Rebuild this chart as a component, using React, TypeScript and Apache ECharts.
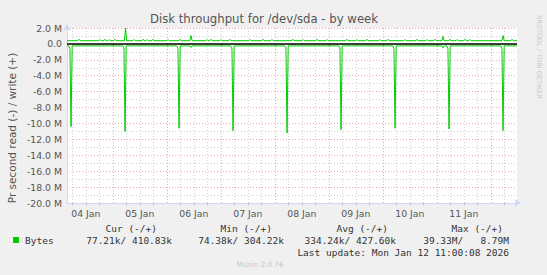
import React, { useEffect, useRef } from "react";
import * as echarts from "echarts";

// Time in hours since 04 Jan 00:00
const X_MIN = 3.6;
const X_MAX = 203.6;

const yTicks = [-20, -18, -16, -14, -12, -10, -8, -6, -4, -2, 0, 2];
const dayLabelHours = [12, 36, 60, 84, 108, 132, 156, 180];
const dayLabels = ["04 Jan", "05 Jan", "06 Jan", "07 Jan", "08 Jan", "09 Jan", "10 Jan", "11 Jan"];
const minorGridHours = [6, 12, 18, 30, 36, 42, 54, 60, 66, 78, 84, 90, 102, 108, 114, 126, 132, 138, 150, 156, 162, 174, 180, 186, 198];
const majorGridHours = [24, 48, 72, 96, 120, 144, 168, 192];

// write (+), in M
const writeBase = 0.4;
const writeEventHours = [8.9, 18.3, 20.5, 22.3, 24.9, 29.6, 33.4, 37.4, 39.2, 41.8, 48.5, 53.8, 58.7, 65.8, 67.6, 72.0, 76.0, 84.9, 90.7, 94.7, 104.0, 108.5, 114.7, 119.2, 128.0, 132.5, 136.9, 142.7, 146.3, 153.8, 159.2, 163.6, 167.2, 170.7, 173.8, 177.0, 180.5, 182.7, 197.4, 201.4];
const writeEventValues = [0.58, 0.55, 0.58, 0.55, 0.58, 1.95, 0.55, 0.58, 0.55, 0.58, 0.55, 0.58, 1.05, 0.55, 0.58, 0.55, 0.58, 0.55, 0.58, 0.55, 0.58, 0.55, 0.58, 0.55, 0.58, 0.55, 0.58, 0.55, 0.58, 0.55, 0.58, 0.55, 0.58, 0.95, 0.58, 0.55, 0.58, 0.55, 1.05, 0.58];

// read (-), in M
const readBase = -0.25;
const readSpikeHours = [5.4, 29.4, 53.4, 77.4, 101.4, 125.4, 149.4, 173.4, 197.4];
const readSpikeValues = [-10.4, -11.0, -10.6, -10.9, -11.2, -10.8, -10.6, -10.7, -10.9];
const readShoulderValues = [-0.6, -0.5, -0.6, -0.5, -0.5, -0.5, -0.6, -0.6, -0.6];
const readDipHours = [58.7, 170.7];
const readDipValues = [-0.45, -0.5];

const legendHeaders = ["Cur (-/+)", "Min (-/+)", "Avg (-/+)", "Max (-/+)"];
const legendValues = ["77.21k/ 410.83k", "74.38k/ 304.22k", "334.24k/ 427.60k", "39.33M/   8.79M"];
const lastUpdate = "Last update: Mon Jan 12 11:00:08 2026";

function buildWrite(): [number, number][] {
  const pts: [number, number][] = [[X_MIN, writeBase]];
  writeEventHours.forEach((h, i) => {
    pts.push([h - 0.5, writeBase], [h, writeEventValues[i]], [h + 0.5, writeBase]);
  });
  pts.push([X_MAX, writeBase]);
  return pts;
}

function buildRead(): [number, number][] {
  const ev: { h: number; p: [number, number][] }[] = [];
  readSpikeHours.forEach((h, i) => {
    ev.push({ h, p: [[h - 1.0, readBase], [h - 0.5, readShoulderValues[i]], [h, readSpikeValues[i]], [h + 0.5, readBase]] });
  });
  readDipHours.forEach((h, i) => {
    ev.push({ h, p: [[h - 0.5, readBase], [h, readDipValues[i]], [h + 0.5, readBase]] });
  });
  ev.sort((a, b) => a.h - b.h);
  const pts: [number, number][] = [[X_MIN, readBase]];
  ev.forEach((e) => e.p.forEach((q) => { if (q[0] >= X_MIN) pts.push(q); }));
  pts.push([X_MAX, readBase]);
  return pts;
}

const SANS = "DejaVu Sans";
const MONO = "DejaVu Sans Mono";
const TXT = "#555555";
const AXIS = "#CFD6F8";
const MINOR = "rgba(150,150,150,0.45)";
const MAJOR = "rgba(230,110,110,0.6)";

export default function App() {
  const ref = useRef<HTMLDivElement>(null);
  useEffect(() => {
    if (!ref.current) return;
    const chart = echarts.init(ref.current, undefined, { renderer: "svg" });
    const headerRight = [157, 272, 388, 503];
    const valueRight = [172, 284, 396, 509];
    const graphics: any[] = [
      { type: "text", x: 264, y: 19, style: { text: "Disk throughput for /dev/sda - by week", fontFamily: SANS, fontSize: 11.7, fill: TXT, align: "center", verticalAlign: "middle" } },
      { type: "text", x: 12, y: 128, rotation: Math.PI / 2, style: { text: "Pr second read (-) / write (+)", fontFamily: SANS, fontSize: 10.5, fill: TXT, align: "center", verticalAlign: "middle" } },
      { type: "text", x: 539, y: 15, rotation: -Math.PI / 2, style: { text: "RRDTOOL / TOBI OETIKER", fontFamily: SANS, fontSize: 6.5, fill: "#c8c8c8", align: "left", verticalAlign: "middle" } },
      { type: "rect", shape: { x: 13, y: 237, width: 6, height: 6 }, style: { fill: "#00CC00" } },
      { type: "text", x: 25, y: 240, style: { text: "Bytes", fontFamily: MONO, fontSize: 9.5, fill: "#333", align: "left", verticalAlign: "middle" } },
      { type: "text", x: 509, y: 252, style: { text: lastUpdate, fontFamily: MONO, fontSize: 9.5, fill: "#333", align: "right", verticalAlign: "middle" } },
      { type: "text", x: 260, y: 264, style: { text: "Munin 2.0.76", fontFamily: SANS, fontSize: 7.2, fill: "#c8c8c8", align: "center", verticalAlign: "middle" } },
    ];
    legendHeaders.forEach((t, i) => graphics.push({ type: "text", x: headerRight[i], y: 228, style: { text: t, fontFamily: MONO, fontSize: 9.5, fill: "#333", align: "right", verticalAlign: "middle" } }));
    legendValues.forEach((t, i) => graphics.push({ type: "text", x: valueRight[i], y: 240, style: { text: t, fontFamily: MONO, fontSize: 9.5, fill: "#333", align: "right", verticalAlign: "middle" } }));

    chart.setOption({
      animation: false,
      backgroundColor: "#F0F0F0",
      grid: { left: 67, right: 30, top: 28, bottom: 72, show: true, backgroundColor: "#ffffff", borderWidth: 0 },
      xAxis: [
        {
          type: "value", min: X_MIN, max: X_MAX, position: "bottom",
          axisLine: { show: true, onZero: false, lineStyle: { color: AXIS, width: 1 }, symbol: ["none", "arrow"], symbolSize: [6, 7], symbolOffset: [0, 4] },
          axisTick: { show: true, length: 2, inside: false, customValues: minorGridHours, lineStyle: { color: MINOR } },
          axisLabel: { show: true, customValues: dayLabelHours, margin: 6, fontFamily: SANS, fontSize: 9.3, color: TXT,
            formatter: (v: number) => dayLabels[dayLabelHours.indexOf(Math.round(v))] ?? "" },
          splitLine: { show: true, lineStyle: { color: MINOR, type: [1, 2], width: 1 } },
        },
        {
          type: "value", min: X_MIN, max: X_MAX, position: "bottom",
          axisLine: { show: false },
          axisTick: { show: true, length: 3, customValues: majorGridHours, lineStyle: { color: MAJOR } },
          axisLabel: { show: false },
          splitLine: { show: true, lineStyle: { color: MAJOR, type: [1, 2], width: 1 } },
        },
      ],
      yAxis: {
        type: "value", min: -20, max: 2, interval: 2,
        axisLine: { show: true, lineStyle: { color: AXIS, width: 1 }, symbol: ["none", "arrow"], symbolSize: [6, 7], symbolOffset: [0, 4] },
        axisTick: { show: false },
        axisLabel: { margin: 5, fontFamily: SANS, fontSize: 9.3, color: TXT,
          formatter: (v: number) => (v === 0 ? "0.0" : v.toFixed(1) + " M") },
        splitLine: { show: true, lineStyle: { color: MAJOR, type: [1, 2], width: 1 } },
        minorTick: { show: false, splitNumber: 2 },
        minorSplitLine: { show: true, lineStyle: { color: MINOR, type: [1, 2], width: 1 } },
      },
      graphic: graphics,
      series: [
        {
          type: "line", name: "write", xAxisIndex: 0, data: buildWrite(), showSymbol: false, symbol: "none",
          lineStyle: { color: "#00CC00", width: 1 }, itemStyle: { color: "#00CC00" }, silent: true, z: 3,
        },
        {
          type: "line", name: "read", xAxisIndex: 0, data: buildRead(), showSymbol: false, symbol: "none",
          lineStyle: { color: "#00CC00", width: 1 }, itemStyle: { color: "#00CC00" }, silent: true, z: 3,
          markLine: { silent: true, symbol: "none", label: { show: false }, lineStyle: { color: "#000", type: "solid", width: 1.6 }, data: [{ yAxis: 0 }] },
        },
      ],
    });
    return () => chart.dispose();
  }, []);
  return <div ref={ref} style={{ position: "fixed", left: 0, top: 0, width: 547, height: 275 }} />;
}
